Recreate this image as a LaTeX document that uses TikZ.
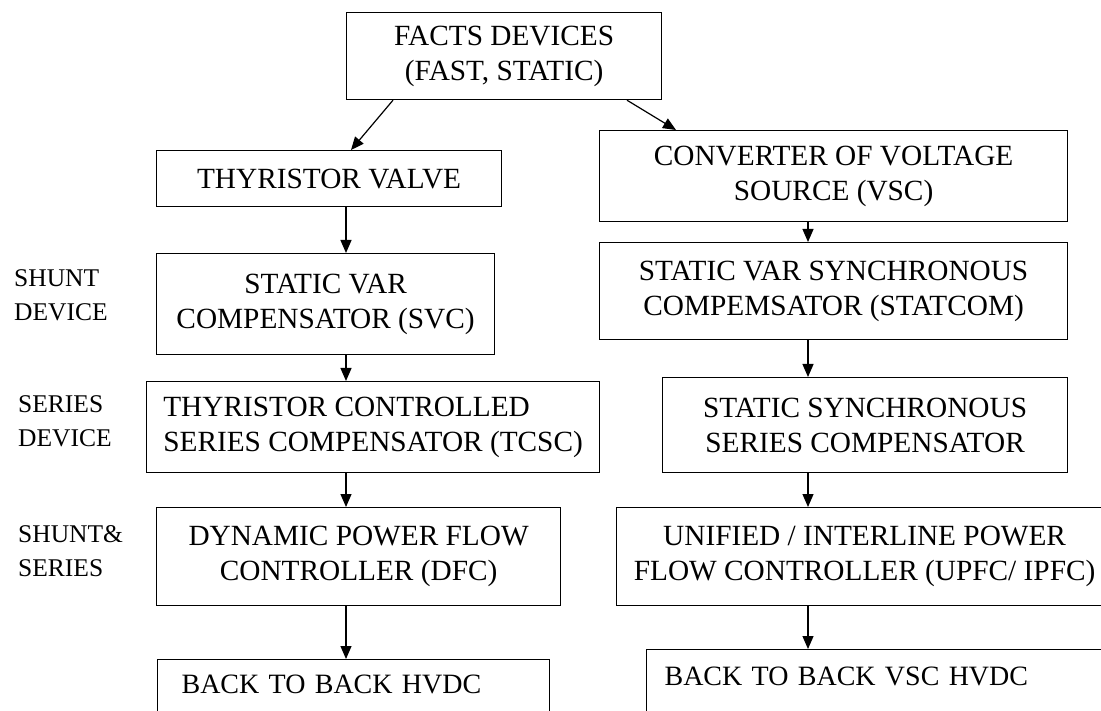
\documentclass[tikz,border=0pt]{standalone}
\usepackage{fontspec}
\setmainfont{Liberation Serif}
\usepackage{xcolor}
\usepackage{tikz}
\usetikzlibrary{arrows.meta, positioning}

\begin{document}
\begin{tikzpicture}[x=1pt, y=-1pt]
\tikzstyle{devbox} = [rectangle, draw, line width=1.2pt, anchor=north west, align=center, inner sep=0pt, font=\fontsize{29.3}{35}\selectfont]
\tikzstyle{endbox} = [devbox, align=left, text depth=55, font=\fontsize{28}{34}\selectfont]
\tikzstyle{sidetext} = [anchor=west, align=left, inner sep=0pt, font=\fontsize{25.5}{34}\selectfont]
\tikzstyle{arrow} = [line width=1.2pt, -{Triangle[length=13pt, width=11pt]}]

\path[use as bounding box, fill=white] (0,0) rectangle (1101,711);

% column lines for the straight arrows
\coordinate (lcol) at (346,0);
\coordinate (rcol) at (808,0);

\node (facts) [devbox, minimum width=315, minimum height=87] at (346,12) {FACTS DEVICES\\(FAST, STATIC)};

% thyristor based branch
\node (tv) [devbox, minimum width=345, minimum height=56] at (156,150) {THYRISTOR VALVE};
\node (svc) [devbox, minimum width=338, minimum height=101] at (156,253) {STATIC VAR\\COMPENSATOR (SVC)};
\node (tcsc) [devbox, align=left, minimum width=453, minimum height=91] at (146,381) {THYRISTOR CONTROLLED\\SERIES COMPENSATOR (TCSC)};
\node (dfc) [devbox, minimum width=404, minimum height=98] at (156,507) {DYNAMIC POWER FLOW\\CONTROLLER (DFC)};
\node (hvdc) [endbox, text width=344, inner xsep=24, inner ysep=15] at (157,659) {BACK TO BACK HVDC};

% converter based branch
\node (vsc) [devbox, minimum width=468, minimum height=91] at (599,130) {CONVERTER OF VOLTAGE\\SOURCE (VSC)};
\node (statcom) [devbox, minimum width=468, minimum height=97] at (599,242) {STATIC VAR SYNCHRONOUS\\COMPEMSATOR (STATCOM)};
\node (sssc) [devbox, minimum width=405, minimum height=95] at (662,377) {STATIC SYNCHRONOUS\\SERIES COMPENSATOR};
\node (upfc) [devbox, minimum width=496, minimum height=98] at (616,507) {UNIFIED / INTERLINE POWER\\FLOW CONTROLLER (UPFC/ IPFC)};
\node (vschvdc) [endbox, text width=444, inner xsep=18, inner ysep=17] at (646,649) {BACK TO BACK VSC HVDC};

% row labels
\node (shunt) [sidetext] at (14,295) {SHUNT\\DEVICE};
\node (series) [sidetext] at (18,421) {SERIES\\DEVICE};
\node (both) [sidetext] at (18,551) {SHUNT\&\\SERIES};

\draw [arrow] ([xshift=47pt]facts.south west) -- ([xshift=195pt]tv.north west);
\draw [arrow] ([xshift=281pt]facts.south west) -- ([xshift=77pt]vsc.north west);

\draw [arrow] (tv.south -| lcol) -- (svc.north -| lcol);
\draw [arrow] (svc.south -| lcol) -- (tcsc.north -| lcol);
\draw [arrow] (tcsc.south -| lcol) -- (dfc.north -| lcol);
\draw [arrow] (dfc.south -| lcol) -- (hvdc.north -| lcol);

\draw [arrow] (vsc.south -| rcol) -- (statcom.north -| rcol);
\draw [arrow] (statcom.south -| rcol) -- (sssc.north -| rcol);
\draw [arrow] (sssc.south -| rcol) -- (upfc.north -| rcol);
\draw [arrow] (upfc.south -| rcol) -- (vschvdc.north -| rcol);

\end{tikzpicture}
\end{document}
